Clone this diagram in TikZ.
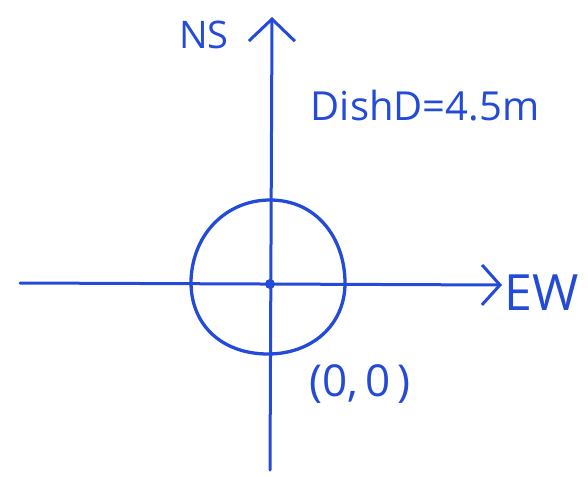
\documentclass[tikz,border=0pt]{standalone}
\usepackage{fontspec}
\setmainfont{Open Sans}
\usetikzlibrary{arrows.meta}
\definecolor{pen}{RGB}{35,75,215}
\tikzset{
  axis/.style={draw=pen, line width=3pt, line cap=round},
  hand/.style={text=pen, inner sep=0pt, anchor=center},
}
\begin{document}
\begin{tikzpicture}[x=1pt,y=-1pt]
\useasboundingbox (0,0) rectangle (588,476);
\coordinate (wE) at (20,283);
\coordinate (eE) at (502,285);
\coordinate (sN) at (270,470);
\coordinate (nN) at (272,17);
\draw[axis, -{Straight Barb[length=18pt,width=40pt,line width=3pt]}] (wE) -- (eE);
\draw[axis, -{Straight Barb[length=22pt,width=46pt,line width=3pt]}] (sN) -- (nN);
\draw[axis, line width=3.3pt] (191,280) .. controls (193,232) and (228,200) .. (270,200)
  .. controls (318,200) and (345,240) .. (345,283)
  .. controls (345,325) and (312,354) .. (268,354)
  .. controls (222,354) and (190,325) .. (191,280) -- cycle;
\fill[pen] (270,284) circle (5);
\node[hand, font=\fontsize{38}{40}\selectfont] (ns) at (204,35) {NS};
\node[hand, font=\fontsize{50}{52}\selectfont] (ew) at (542,293) {EW};
\node[hand, font=\fontsize{40}{42}\selectfont] (dish) at (425,106) {DishD=4.5m};
\node[hand, font=\fontsize{44}{46}\selectfont] (orig) at (360,384) {(0,\,0\,)};
\end{tikzpicture}
\end{document}
